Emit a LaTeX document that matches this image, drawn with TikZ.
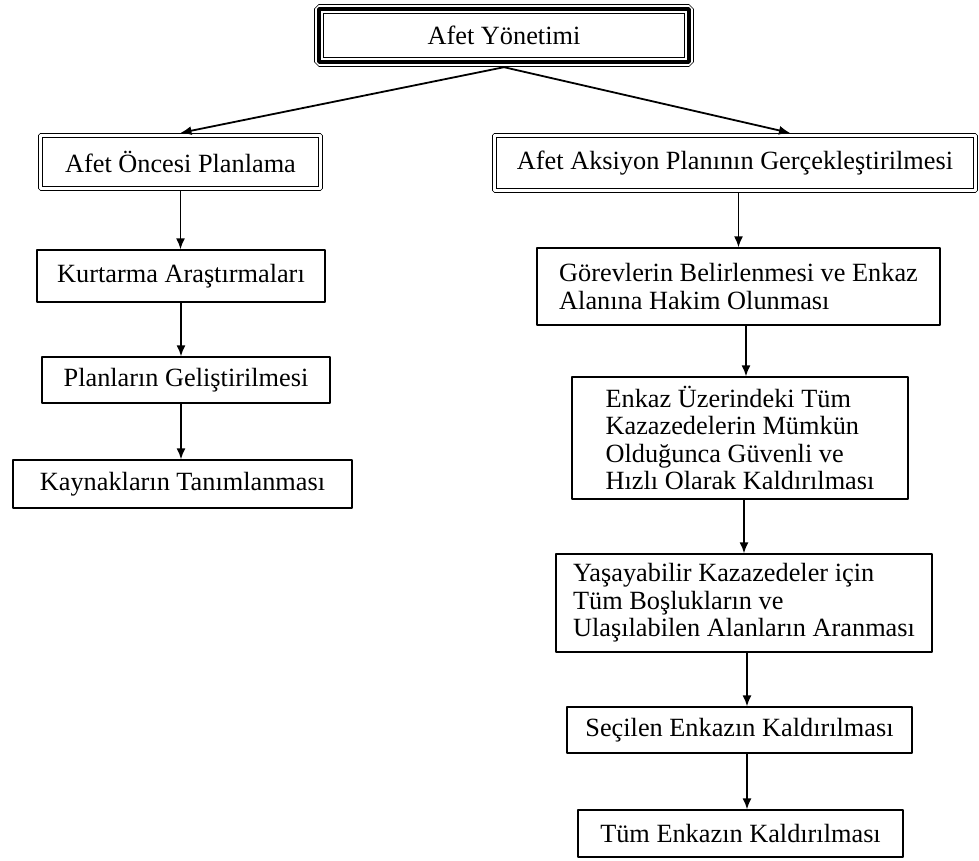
\documentclass[tikz,border=0pt]{standalone}
\usepackage{fontspec}
\setmainfont{Liberation Serif}
\usetikzlibrary{arrows.meta,shapes}

\begin{document}
\begin{tikzpicture}[>={Latex[length=5.5bp,width=4.5bp]},line join=bevel,
  box/.style={draw,rectangle,line width=0.6bp,inner sep=2bp,align=left,
    font=\fontsize{13.2}{13.8}\selectfont},
  dbox/.style={box,double,double distance=1.2bp,line width=0.7bp,outer sep=1.3bp},
  tbox/.style={box,double,double distance=4bp,line width=0.6bp,outer sep=2.6bp,
    postaction={draw,line width=2.2bp}},
  link/.style={->,line width=0.9bp}]
%%
\useasboundingbox (0bp,0bp) rectangle (489.5bp,430.5bp);
\node (top) at (252.0bp,412.75bp) [tbox,minimum width=185bp,minimum height=26.5bp] {Afet Yönetimi};
  \node (pre) at (90.25bp,349.5bp) [dbox,minimum width=140bp,minimum height=26.5bp] {Afet Öncesi Planlama};
  \node (act) at (367.5bp,349.0bp) [dbox,minimum width=240.5bp,minimum height=27.5bp] {Afet Aksiyon Planının Gerçekleştirilmesi};
  \node (kurt) at (90.5bp,292.5bp) [box,minimum width=144bp,minimum height=26bp] {Kurtarma Araştırmaları};
  \node (plan) at (93.0bp,240.5bp) [box,minimum width=144bp,minimum height=23bp] {Planların Geliştirilmesi};
  \node (kayn) at (91.25bp,188.5bp) [box,minimum width=169.5bp,minimum height=24bp] {Kaynakların Tanımlanması};
  \node (gorev) at (369.25bp,287.25bp) [box,minimum width=201.5bp,minimum height=38.5bp] {Görevlerin Belirlenmesi ve Enkaz\\Alanına Hakim Olunması};
  \node (enkaz) at (370.0bp,211.5bp) [box,minimum width=168bp,minimum height=61bp] {Enkaz Üzerindeki Tüm\\Kazazedelerin Mümkün\\Olduğunca Güvenli ve\\Hızlı Olarak Kaldırılması};
  \node (yasa) at (372.0bp,129.0bp) [box,minimum width=188bp,minimum height=49bp] {Yaşayabilir Kazazedeler için\\Tüm Boşlukların ve\\Ulaşılabilen Alanların Aranması};
  \node (secil) at (369.75bp,65.5bp) [box,minimum width=172.5bp,minimum height=23bp] {Seçilen Enkazın Kaldırılması};
  \node (tum) at (370.25bp,13.75bp) [box,minimum width=162.5bp,minimum height=23.5bp] {Tüm Enkazın Kaldırılması};
  \draw [link] (top.south) -- (pre.north);
  \draw [link] (top.south) -- ([xshift=27.5bp]act.north);
  \draw [link] (pre) -- (pre |- kurt.north);
  \draw [link] (kurt) -- (kurt |- plan.north);
  \draw [link] (kurt |- plan.south) -- (kurt |- kayn.north);
  \draw [link] (gorev |- act.south) -- (gorev);
  \draw [link] ([xshift=3bp]enkaz.north |- gorev.south) -- ([xshift=3bp]enkaz.north);
  \draw [link] (yasa |- enkaz.south) -- (yasa);
  \draw [link] ([xshift=1.5bp]yasa.south) -- ([xshift=1.5bp]yasa.south |- secil.north);
  \draw [link] ([xshift=1.5bp]yasa.south |- secil.south) -- ([xshift=1.5bp]yasa.south |- tum.north);
%
\end{tikzpicture}
\end{document}
